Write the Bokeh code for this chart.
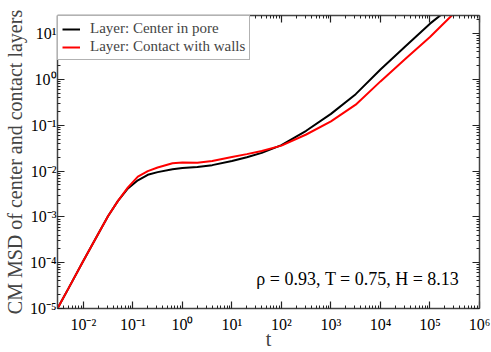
from bokeh.plotting import figure
from bokeh.models import LogAxis, FixedTicker, Label, Range1d
from bokeh.embed import file_html
from bokeh.resources import INLINE

# data (t, MSD)
t_center = [0.003, 0.005, 0.01, 0.02, 0.0316, 0.05, 0.0794, 0.126, 0.2, 0.316, 0.631, 1.0, 2.0, 4.0, 10.0, 20.0, 40.0, 100.0, 316.0, 1000.0, 3162.0, 10000.0, 31623.0, 100000.0, 166000.0]
msd_center = [1.0e-5, 2.75e-5, 1.1e-4, 4.3e-4, 1.05e-3, 2.24e-3, 4.2e-3, 6.3e-3, 8.3e-3, 9.5e-3, 1.1e-2, 1.17e-2, 1.23e-2, 1.35e-2, 1.66e-2, 2.0e-2, 2.5e-2, 3.7e-2, 7.6e-2, 0.178, 0.479, 1.66, 5.25, 16.6, 25.7]
t_walls = [0.003, 0.005, 0.01, 0.02, 0.0316, 0.05, 0.0794, 0.126, 0.2, 0.316, 0.631, 1.0, 2.0, 4.0, 10.0, 20.0, 40.0, 100.0, 316.0, 1000.0, 3162.0, 10000.0, 31623.0, 100000.0, 282000.0]
msd_walls = [1.0e-5, 2.75e-5, 1.1e-4, 4.3e-4, 1.05e-3, 2.24e-3, 4.4e-3, 7.6e-3, 1.0e-2, 1.2e-2, 1.48e-2, 1.55e-2, 1.52e-2, 1.66e-2, 2.04e-2, 2.35e-2, 2.75e-2, 3.6e-2, 6.3e-2, 0.122, 0.282, 0.91, 2.82, 8.5, 25.7]

x_ticks = [1e-2, 1e-1, 1.0, 10.0, 100.0, 1e3, 1e4, 1e5, 1e6]
x_labels = ["10⁻²", "10⁻¹", "10⁰", "10¹", "10²", "10³", "10⁴", "10⁵", "10⁶"]
y_ticks = [1e-5, 1e-4, 1e-3, 1e-2, 1e-1, 1.0, 10.0]
y_labels = ["10⁻⁵", "10⁻⁴", "10⁻³", "10⁻²", "10⁻¹", "10⁰", "10¹"]

def minors(lo, hi):
    out = []
    for e in range(lo, hi):
        for m in range(2, 10):
            out.append(m * 10.0 ** e)
    return out

x_minor = minors(-3, 6)
y_minor = minors(-5, 2)

FONT = "Liberation Serif"

p = figure(width=491, height=352, x_axis_type="log", y_axis_type="log",
           x_range=Range1d(0.003, 1e6), y_range=Range1d(1e-5, 25),
           output_backend="svg", toolbar_location=None,
           min_border_left=55, min_border_top=15, min_border_right=12, min_border_bottom=40)
p.outline_line_color = None
p.grid.visible = False
p.background_fill_color = "white"

def style(ax, ticks, minor, labels, show):
    ax.ticker = FixedTicker(ticks=ticks, minor_ticks=minor)
    ax.major_tick_in = 7
    ax.major_tick_out = 0
    ax.minor_tick_in = 3
    ax.minor_tick_out = 0
    ax.axis_line_color = "#444444"
    ax.axis_line_width = 1.5
    ax.major_tick_line_color = "#222222"
    ax.minor_tick_line_color = "#222222"
    ax.major_tick_line_width = 1.2
    ax.minor_tick_line_width = 1.0
    ax.major_label_text_font = FONT
    ax.major_label_text_font_size = "16px"
    ax.major_label_text_color = "black"
    if show:
        ax.major_label_overrides = {t: l for t, l in zip(ticks, labels)}
        ax.major_label_standoff = 1
    else:
        ax.major_label_overrides = {t: "" for t in ticks}
        ax.major_label_standoff = 0
        ax.axis_label_standoff = 0
        ax.major_label_text_font_size = "0px"

xa = p.xaxis[0]
ya = p.yaxis[0]
style(xa, x_ticks, x_minor, x_labels, True)
style(ya, y_ticks, y_minor, y_labels, True)
xa.major_label_standoff = 7
xa.axis_label = "t"
xa.axis_label_text_font = FONT
xa.axis_label_text_font_style = "normal"
xa.axis_label_text_font_size = "20px"
xa.axis_label_standoff = -8
ya.axis_label = "CM MSD of center and contact layers"
ya.axis_label_text_font = FONT
ya.axis_label_text_font_style = "normal"
ya.axis_label_text_font_size = "20px"
ya.axis_label_standoff = 1

top = LogAxis()
style(top, x_ticks, x_minor, x_labels, False)
p.add_layout(top, "above")
right = LogAxis()
style(right, y_ticks, y_minor, y_labels, False)
p.add_layout(right, "right")

p.line(t_center, msd_center, line_color="black", line_width=2, legend_label="Layer: Center in pore")
p.line(t_walls, msd_walls, line_color="#ff0000", line_width=2, legend_label="Layer: Contact with walls")

lg = p.legend[0]
lg.location = "top_left"
lg.margin = 0
lg.padding = 4
lg.spacing = 1
lg.border_line_color = "#666666"
lg.border_line_width = 1.5
lg.label_text_font = FONT
lg.label_text_font_size = "15px"
lg.label_height = 16
lg.glyph_width = 18
lg.glyph_height = 14
lg.label_standoff = 10
lg.background_fill_alpha = 1.0

p.add_layout(Label(x=31, y=4.4e-5, text="ρ = 0.93, T = 0.75, H = 8.13",
                   text_font=FONT, text_font_size="18px", text_baseline="middle",
                   text_align="left", text_color="black"))

open("out.html", "w").write(file_html(p, INLINE))
